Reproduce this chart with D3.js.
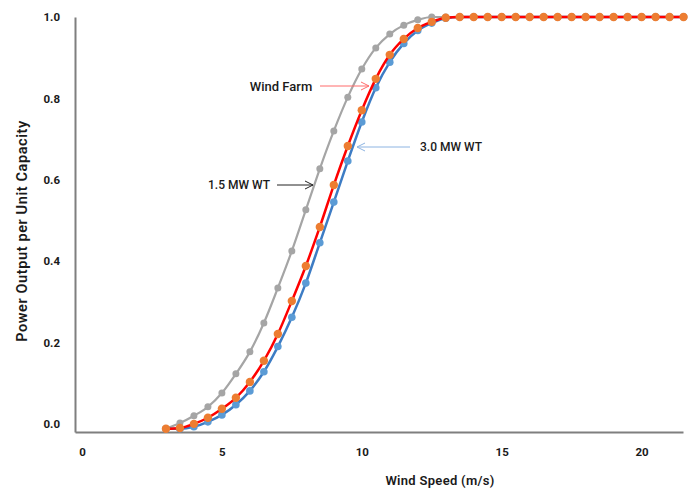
<!DOCTYPE html>
<html lang="en">
<head>
  <meta charset="UTF-8">
  <title>Power Curves</title>
  <script src="https://d3js.org/d3.v7.min.js"></script>
  <style>
    body { margin: 0; background: #fff; }
    text { font-family: "Roboto", "DejaVu Sans", sans-serif; fill: #1a1a1a; }
  </style>
</head>
<body>
<svg id="chart" width="691" height="490"></svg>
<script>
// wind speed (m/s)
const speeds = [3, 3.5, 4, 4.5, 5, 5.5, 6, 6.5, 7, 7.5, 8, 8.5, 9, 9.5, 10, 10.5, 11, 11.5, 12, 12.5,
  13, 13.5, 14, 14.5, 15, 15.5, 16, 16.5, 17, 17.5, 18, 18.5, 19, 19.5, 20, 20.5, 21, 21.5];

// power output per unit capacity
const wt15 = [-0.012, 0.002, 0.02, 0.042, 0.076, 0.123, 0.177, 0.248, 0.334, 0.425, 0.526, 0.627, 0.72, 0.803, 0.872, 0.924, 0.958, 0.98, 0.993, 1.0,
  1, 1, 1, 1, 1, 1, 1, 1, 1, 1, 1, 1, 1, 1, 1, 1, 1, 1];
const wt30 = [-0.012, -0.012, -0.007, 0.005, 0.022, 0.047, 0.081, 0.128, 0.19, 0.262, 0.346, 0.445, 0.545, 0.646, 0.742, 0.826, 0.889, 0.935, 0.967, 0.985,
  0.997, 1, 1, 1, 1, 1, 1, 1, 1, 1, 1, 1, 1, 1, 1, 1, 1, 1];
const farm = [-0.012, -0.01, 0.0, 0.015, 0.037, 0.064, 0.103, 0.155, 0.221, 0.302, 0.388, 0.484, 0.587, 0.683, 0.771, 0.848, 0.907, 0.946, 0.973, 0.988,
  0.998, 1, 1, 1, 1, 1, 1, 1, 1, 1, 1, 1, 1, 1, 1, 1, 1, 1];

const xTicks = [0, 5, 10, 15, 20];
const yTicks = [0, 0.2, 0.4, 0.6, 0.8, 1.0];

const svg = d3.select("#chart");

const x = d3.scaleLinear().domain([-0.25, 21.48]).range([75, 683]);
const y = d3.scaleLinear().domain([-0.02, 1.0]).range([432, 17]);

// axes
const xAxis = svg.append("g")
  .attr("transform", `translate(0,${y(-0.02)})`)
  .call(d3.axisBottom(x).tickValues(xTicks).tickSize(0).tickPadding(16).tickFormat(d3.format("d")));
const yAxis = svg.append("g")
  .attr("transform", `translate(${x(-0.25)},0)`)
  .call(d3.axisLeft(y).tickValues(yTicks).tickSize(0).tickPadding(15).tickFormat(d3.format(".1f")));

[xAxis, yAxis].forEach(g => {
  g.select(".domain").attr("stroke", "#7f7f7f").attr("stroke-width", 2);
  g.selectAll("text")
    .style("font-family", "Roboto, sans-serif")
    .style("font-size", "11.5px")
    .style("font-weight", "700")
    .attr("fill", "#1a1a1a");
});

// axis titles
svg.append("text")
  .attr("x", 440).attr("y", 485)
  .attr("text-anchor", "middle")
  .style("font-size", "13px").style("font-weight", "600")
  .style("letter-spacing", "0.3px")
  .text("Wind Speed (m/s)");

svg.append("text")
  .attr("transform", "translate(27,231) rotate(-90)")
  .attr("text-anchor", "middle")
  .style("font-size", "14.5px").style("font-weight", "600")
  .style("letter-spacing", "0.6px")
  .text("Power Output per Unit Capacity");

const line = d3.line().x((d, i) => x(speeds[i])).y(d => y(d)).curve(d3.curveMonotoneX);

function drawSeries(vals, lineColor, width, dotColor, r) {
  const g = svg.append("g");
  g.append("path")
    .datum(vals)
    .attr("d", line)
    .attr("fill", "none")
    .attr("stroke", lineColor)
    .attr("stroke-width", width);
  g.selectAll("circle")
    .data(vals)
    .enter().append("circle")
    .attr("cx", (d, i) => x(speeds[i]))
    .attr("cy", d => y(d))
    .attr("r", r)
    .attr("fill", dotColor);
}

drawSeries(wt15, "#a5a5a5", 2.2, "#a5a5a5", 3.5);
drawSeries(wt30, "#3d7cc4", 2.5, "#5b9bd5", 3.8);
drawSeries(farm, "#ff0000", 2.5, "#ed7d31", 4.2);

// annotations
const defs = svg.append("defs");
function marker(id, color) {
  defs.append("marker")
    .attr("id", id)
    .attr("viewBox", "0 0 10 10")
    .attr("refX", 9).attr("refY", 5)
    .attr("markerWidth", 10).attr("markerHeight", 10)
    .attr("markerUnits", "userSpaceOnUse")
    .attr("orient", "auto")
    .append("path")
    .attr("d", "M1,1 L9,5 L1,9")
    .attr("fill", "none")
    .attr("stroke", color)
    .attr("stroke-width", 1);
}
marker("arrRed", "#ff6b6b");
marker("arrBlue", "#8db4e2");
marker("arrBlack", "#222");

const notes = [
  { label: "Wind Farm", size: 13, tx: 281, ty: 86, x1: 320, x2: 369, color: "#ff6b6b", id: "arrRed" },
  { label: "3.0 MW WT", size: 12, tx: 451, ty: 147, x1: 410, x2: 357, color: "#8db4e2", id: "arrBlue" },
  { label: "1.5 MW WT", size: 12, tx: 239, ty: 185, x1: 277, x2: 313, color: "#222", id: "arrBlack" }
];

notes.forEach(n => {
  svg.append("line")
    .attr("x1", n.x1).attr("y1", n.ty)
    .attr("x2", n.x2).attr("y2", n.ty)
    .attr("stroke", n.color).attr("stroke-width", 1)
    .attr("marker-end", `url(#${n.id})`);
  svg.append("text")
    .attr("x", n.tx).attr("y", n.ty)
    .attr("dy", "0.35em")
    .attr("text-anchor", "middle")
    .style("font-size", `${n.size}px`).style("font-weight", "500")
    .text(n.label);
});
</script>
</body>
</html>
